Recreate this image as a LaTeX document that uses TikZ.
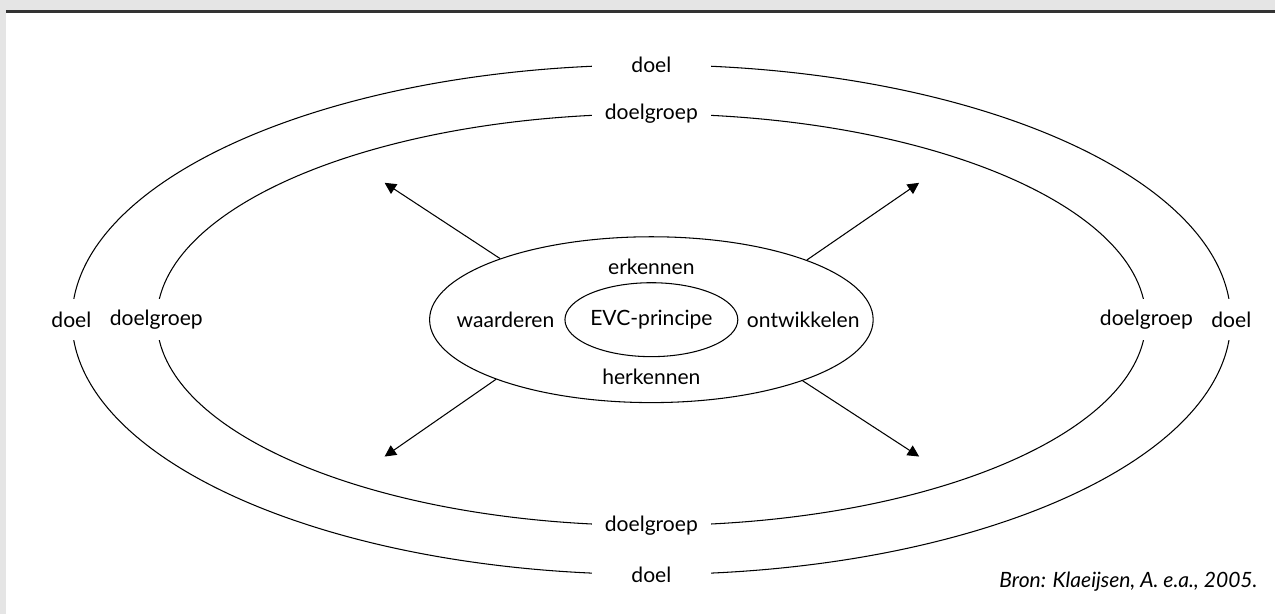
\documentclass[tikz,border=0pt]{standalone}
\usepackage{fontspec}
\setmainfont{Lato}
\usetikzlibrary{shapes.geometric,arrows.meta}

\begin{document}
\begin{tikzpicture}[
    ring/.style={draw, ellipse, line width=.6pt, inner sep=0pt},
    gap/.style={fill=white, inner xsep=1pt, inner ysep=0pt},
    topgap/.style={gap, minimum width=2.38cm, minimum height=.5cm},
    sidegap/.style={gap, minimum height=.82cm},
    outarrow/.style={line width=.6pt, -{Triangle[length=6.5pt,width=6.5pt]}},
    font=\fontsize{12}{14}\selectfont
  ]
      % frame
      \fill [black!10] (0,0) rectangle (25.52,12.3);
      \fill [white] (.12,0) rectangle (25.52,12.04);
      \draw [black!80, line width=1.4pt] (.12,12.07) -- (25.52,12.07);
      \useasboundingbox (0,0) rectangle (25.52,12.3);

      \coordinate (c) at (13.04,5.9);

      % rings
      \node [ring, minimum width=23.2cm, minimum height=10.2cm] (outer) at (c) {};
      \node [ring, minimum width=19.8cm, minimum height=8.24cm] (inner) at (c) {};
      \node [ring, minimum width=8.88cm, minimum height=3.32cm] (mid) at (c) {};
      \node [ring, minimum width=3.24cm, minimum height=1.48cm] (core) at (c) {EVC-principe};

      % labels on the rings
      \node [topgap] (doelN) at (outer.north) {doel};
      \node [topgap] (doelS) at (outer.south) {doel};
      \node [sidegap] (doelW) at (outer.west) {doel};
      \node [sidegap] (doelE) at (outer.east) {doel};
      \node [topgap] (groepN) at (inner.north) {doelgroep};
      \node [topgap] (groepS) at (inner.south) {doelgroep};
      \node [sidegap] (groepW) at (inner.west) {doelgroep};
      \node [sidegap] (groepE) at (inner.east) {doelgroep};

      \node (erkennen) at (13.04,6.96) {erkennen};
      \node (herkennen) at (13.04,4.76) {herkennen};
      \node (waarderen) at (10.12,5.9) {waarderen};
      \node (ontwikkelen) at (16.08,5.9) {ontwikkelen};

      % arrows
      \coordinate (nw) at (7.7,8.64);
      \coordinate (ne) at (18.4,8.64);
      \coordinate (sw) at (7.7,3.16);
      \coordinate (se) at (18.4,3.16);
      \draw [outarrow] (mid.158.4) -- (nw);
      \draw [outarrow] (mid.21.6) -- (ne);
      \draw [outarrow] (mid.201.6) -- (sw);
      \draw [outarrow] (mid.338.4) -- (se);

      \node [left, font=\fontsize{12}{14}\selectfont\itshape] (bron) at (25.3,.66) {Bron: Klaeijsen, A. e.a., 2005.};
\end{tikzpicture}
\end{document}
